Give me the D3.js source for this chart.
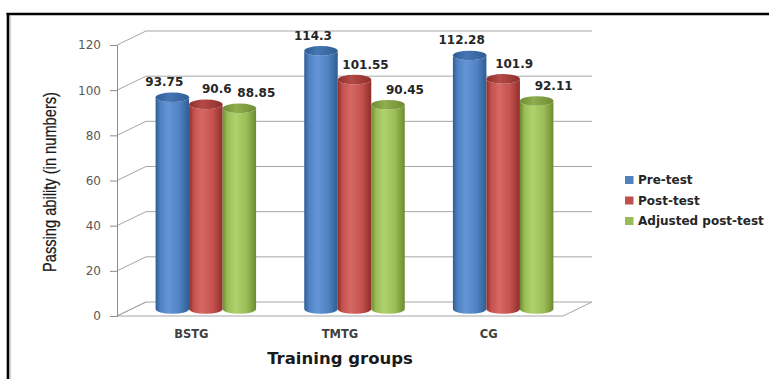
<!DOCTYPE html>
<html>
<head>
<meta charset="utf-8">
<script src="https://cdn.jsdelivr.net/npm/d3@7"></script>
<style>
  html, body { margin: 0; padding: 0; background: #fff; }
  svg { display: block; }
</style>
</head>
<body>
<svg id="chart" width="769" height="379"></svg>
<script>
// ---- data ----
const categories = ["BSTG", "TMTG", "CG"];
const seriesNames = ["Pre-test", "Post-test", "Adjusted post-test"];
const preTest = [93.75, 114.3, 112.28];
const postTest = [90.6, 101.55, 101.9];
const adjustedPostTest = [88.85, 90.45, 92.11];
const seriesValues = [preTest, postTest, adjustedPostTest];
const yTicks = [0, 20, 40, 60, 80, 100, 120];
const xTitle = "Training groups";
const yTitle = "Passing ability (in numbers)";

// ---- styles ----
const colors = [
  { edge: "#2f5d94", mid: "#4f82c2", hi: "#6496d6", top: "#4576b4", rim: "#2f5d94" },
  { edge: "#8e2e2b", mid: "#c4514d", hi: "#d66864", top: "#b54a46", rim: "#8e2f2c" },
  { edge: "#6c8b30", mid: "#9bbd57", hi: "#b0d26c", top: "#8fae4e", rim: "#6f8c33" }
];
const legendColors = ["#4f81bd", "#c0504d", "#9bbb59"];

const svg = d3.select("#chart");
const defs = svg.append("defs");

// frame
svg.append("line").attr("x1", 6.5).attr("x2", 769).attr("y1", 14).attr("y2", 14)
  .attr("stroke", "#000").attr("stroke-width", 2.6);
svg.append("line").attr("x1", 8).attr("x2", 8).attr("y1", 13).attr("y2", 379)
  .attr("stroke", "#000").attr("stroke-width", 2.6);
svg.append("line").attr("x1", 10.6).attr("x2", 10.6).attr("y1", 15.5).attr("y2", 379)
  .attr("stroke", "#aaa").attr("stroke-width", 1.2).attr("stroke-dasharray", "1,1");

// geometry
const x0 = 117, x1 = 563;
const depthX = 29, depthY = -14;
const y = d3.scaleLinear().domain([0, 120]).range([316, 45]);
const xBand = d3.scaleBand().domain(categories).range([x0, x1]);

const grid = svg.append("g");
// floor
grid.append("path")
  .attr("d", `M${x0},${y(0)} L${x1},${y(0)} L${x1 + depthX},${y(0) + depthY} L${x0 + depthX},${y(0) + depthY} Z`)
  .attr("fill", "none").attr("stroke", "#a6a6a6").attr("stroke-width", 1);
// gridlines on back wall & side wall
yTicks.forEach(t => {
  if (t > 0) {
    grid.append("line")
      .attr("x1", x0 + depthX).attr("x2", x1 + depthX)
      .attr("y1", y(t) + depthY).attr("y2", y(t) + depthY)
      .attr("stroke", "#a6a6a6").attr("stroke-width", 1);
  }
  grid.append("line")
    .attr("x1", x0).attr("x2", x0 + depthX)
    .attr("y1", y(t)).attr("y2", y(t) + depthY)
    .attr("stroke", "#a6a6a6").attr("stroke-width", 1);
});

// y axis (front)
const yAxis = d3.axisLeft(y).tickValues(yTicks).tickSize(7).tickPadding(9);
const yAxisG = svg.append("g").attr("transform", `translate(${x0},0)`).call(yAxis);
yAxisG.select(".domain").attr("stroke", "#8c8c8c");
yAxisG.selectAll(".tick line").attr("stroke", "#8c8c8c");
yAxisG.selectAll(".tick text")
  .attr("font-family", "DejaVu Sans, sans-serif").attr("font-size", 12)
  .attr("fill", "#595959");

// x axis labels
const xAxis = d3.axisBottom(xBand).tickSize(0).tickPadding(14);
const xAxisG = svg.append("g").attr("transform", `translate(0,${y(0)})`).call(xAxis);
xAxisG.select(".domain").remove();
xAxisG.selectAll(".tick text")
  .attr("font-family", "DejaVu Sans, sans-serif").attr("font-size", 11.5)
  .attr("font-weight", "bold").attr("fill", "#404040");

// gradients
colors.forEach((c, i) => {
  const g = defs.append("linearGradient").attr("id", "cyl" + i)
    .attr("x1", "0%").attr("x2", "100%").attr("y1", "0%").attr("y2", "0%");
  g.append("stop").attr("offset", "0%").attr("stop-color", c.edge);
  g.append("stop").attr("offset", "14%").attr("stop-color", c.mid);
  g.append("stop").attr("offset", "38%").attr("stop-color", c.hi);
  g.append("stop").attr("offset", "72%").attr("stop-color", c.mid);
  g.append("stop").attr("offset", "100%").attr("stop-color", c.edge);
  const t = defs.append("linearGradient").attr("id", "top" + i)
    .attr("x1", "0%").attr("x2", "100%").attr("y1", "0%").attr("y2", "0%");
  t.append("stop").attr("offset", "0%").attr("stop-color", c.rim);
  t.append("stop").attr("offset", "40%").attr("stop-color", c.top);
  t.append("stop").attr("offset", "100%").attr("stop-color", c.rim);
});

// bars
const barW = 33.5;
const ry = 4.8;
const xSeries = d3.scaleBand().domain(d3.range(seriesNames.length))
  .range([-barW * 1.5, barW * 1.5]);
const barsG = svg.append("g");
const labelDx = [-8, 11, 17];
const labelsG = svg.append("g");
categories.forEach((cat, ci) => {
  const cx = xBand(cat) + xBand.bandwidth() / 2 + depthX / 2;
  seriesValues.forEach((vals, si) => {
    const v = vals[ci];
    const left = cx + xSeries(si);
    const right = left + barW;
    const bottom = y(0) + depthY / 2;
    const top = y(v) + depthY / 2;
    const rx = barW / 2;
    barsG.append("path")
      .attr("d", `M${left},${top} L${left},${bottom} A${rx},${ry} 0 0 0 ${right},${bottom} L${right},${top} A${rx},${ry} 0 0 1 ${left},${top} Z`)
      .attr("fill", `url(#cyl${si})`);
    barsG.append("ellipse")
      .attr("cx", left + rx).attr("cy", top).attr("rx", rx).attr("ry", ry)
      .attr("fill", `url(#top${si})`);
    labelsG.append("text")
      .attr("x", left + rx + labelDx[si]).attr("y", top - 15)
      .attr("text-anchor", "middle").attr("dominant-baseline", "central")
      .attr("font-family", "DejaVu Sans, sans-serif").attr("font-size", 12)
      .attr("font-weight", "bold").attr("fill", "#262626")
      .text(v);
  });
});

// axis titles
svg.append("text")
  .attr("x", 340).attr("y", 358)
  .attr("text-anchor", "middle").attr("dominant-baseline", "central")
  .attr("font-family", "DejaVu Sans, sans-serif").attr("font-size", 16.5)
  .attr("font-weight", "bold").attr("fill", "#1a1a1a")
  .text(xTitle);
svg.append("text")
  .attr("transform", "translate(50,182) rotate(-90)")
  .attr("text-anchor", "middle").attr("dominant-baseline", "central")
  .attr("font-family", "Liberation Sans Narrow, Arial Narrow, sans-serif").attr("font-size", 17.5)
  .attr("fill", "#1a1a1a").attr("stroke", "#1a1a1a").attr("stroke-width", 0.25)
  .attr("textLength", 180).attr("lengthAdjust", "spacingAndGlyphs")
  .text(yTitle);

// legend
const legend = svg.append("g").attr("transform", "translate(625,180)");
seriesNames.forEach((name, i) => {
  const row = legend.append("g").attr("transform", `translate(0,${i * 20.5})`);
  row.append("rect").attr("x", 0).attr("y", -4).attr("width", 8.5).attr("height", 8)
    .attr("fill", legendColors[i]);
  row.append("text").attr("x", 13).attr("y", 0).attr("dominant-baseline", "central")
    .attr("font-family", "DejaVu Sans, sans-serif").attr("font-size", 12)
    .attr("font-weight", "bold").attr("fill", "#262626")
    .text(name);
});
</script>
</body>
</html>
